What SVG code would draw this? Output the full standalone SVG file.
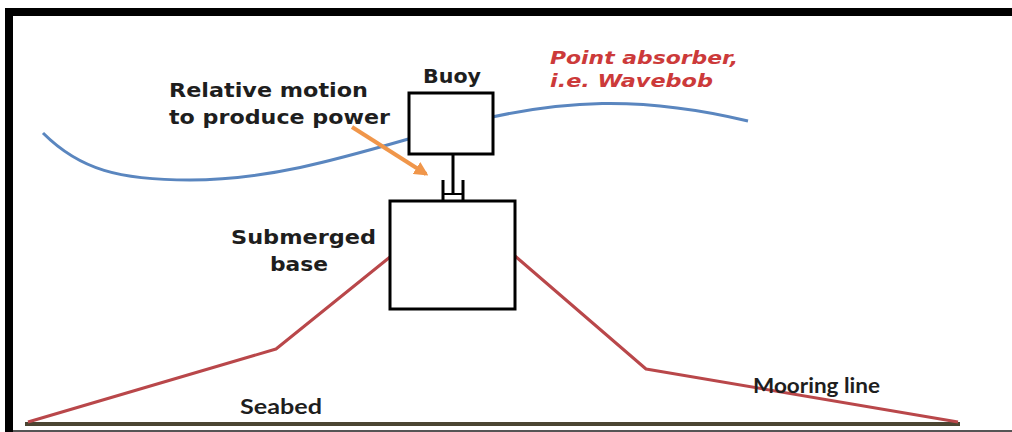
<svg xmlns="http://www.w3.org/2000/svg" width="1012" height="432" viewBox="0 0 1012 432">
<defs>
<style>
.lbl{font-family:"DejaVu Sans",Verdana,sans-serif;font-weight:bold;fill:#1e1e1e}
.cal{font-family:Lato,"Liberation Sans",sans-serif;font-weight:bold;fill:#1e1e1e}
.red{font-family:"DejaVu Sans",Verdana,sans-serif;font-weight:bold;font-style:italic;fill:#cc3a3a}
.box{fill:#fff;stroke:#000;stroke-width:3}
.moor{fill:none;stroke:#b9474a;stroke-width:3;stroke-linejoin:round}
</style>
<marker id="ah" viewBox="0 0 10 10" refX="8" refY="5" markerWidth="3.5" markerHeight="3.5" orient="auto">
<path d="M0,0 L10,5 L0,10 z" fill="#f0964a"/>
</marker>
</defs>
<rect width="1012" height="432" fill="#fff"/>
<g id="frame">
<rect x="5" y="8" width="1007" height="8" fill="#000"/>
<rect x="5" y="8" width="8" height="424" fill="#000"/>
<rect x="13" y="430" width="999" height="2" fill="#555"/>
</g>
<g id="seabed">
<line x1="25" y1="424" x2="960" y2="424" stroke="#4b4532" stroke-width="4"/>
<text class="cal" x="240" y="414" font-size="21" textLength="82" lengthAdjust="spacingAndGlyphs">Seabed</text>
</g>
<g id="connectors">
<path class="moor" d="M28,422 L276,349 L390,257"/>
<path class="moor" d="M515,256 L646,369 L958,422"/>
<path id="wave" d="M43,133 C80,170 120,180 190,180 C290,180 380,145 470,122 C560,100 640,95 748,121" fill="none" stroke="#5a86bf" stroke-width="3"/>
<line x1="352" y1="127" x2="426" y2="174" stroke="#f0964a" stroke-width="4" marker-end="url(#ah)"/>
</g>
<g id="buoy">
<rect class="box" x="409" y="93" width="84" height="61"/>
<text class="lbl" x="452" y="83" font-size="19" text-anchor="middle" textLength="58" lengthAdjust="spacingAndGlyphs">Buoy</text>
</g>
<g id="pto">
<line x1="453" y1="154" x2="453" y2="193" stroke="#000" stroke-width="3"/>
<line x1="443" y1="180" x2="443" y2="201" stroke="#000" stroke-width="3"/>
<line x1="463" y1="180" x2="463" y2="201" stroke="#000" stroke-width="3"/>
<line x1="443" y1="194" x2="463" y2="194" stroke="#000" stroke-width="2"/>
</g>
<g id="base">
<rect class="box" x="390" y="201" width="125" height="108"/>
<text class="lbl" x="231" y="244" font-size="19" textLength="145" lengthAdjust="spacingAndGlyphs">Submerged</text>
<text class="lbl" x="270" y="271" font-size="19" textLength="58" lengthAdjust="spacingAndGlyphs">base</text>
</g>
<g id="relmotion">
<text class="lbl" x="169" y="97" font-size="19" textLength="199" lengthAdjust="spacingAndGlyphs">Relative motion</text>
<text class="lbl" x="169" y="124" font-size="19" textLength="221" lengthAdjust="spacingAndGlyphs">to produce power</text>
</g>
<g id="pointabs">
<text class="red" x="550" y="64" font-size="18" textLength="188" lengthAdjust="spacingAndGlyphs">Point absorber,</text>
<text class="red" x="550" y="87" font-size="18" textLength="163" lengthAdjust="spacingAndGlyphs">i.e. Wavebob</text>
</g>
<g id="mooring">
<text class="cal" x="753" y="393" font-size="21" textLength="127" lengthAdjust="spacingAndGlyphs">Mooring line</text>
</g>
</svg>
